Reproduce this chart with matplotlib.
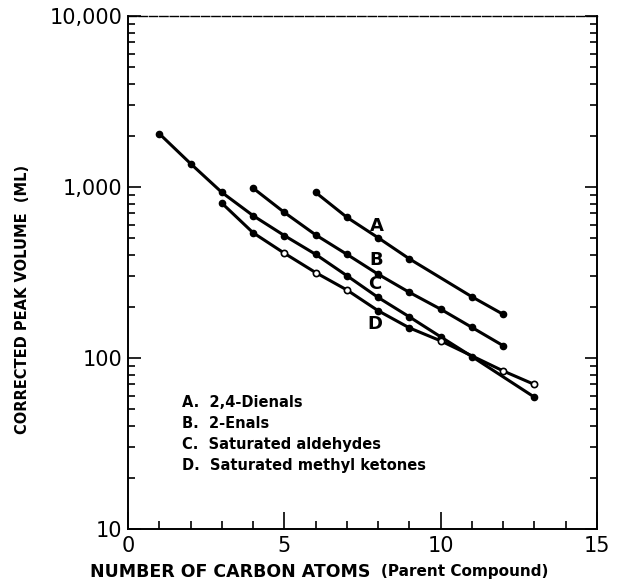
import matplotlib.pyplot as plt
from matplotlib.ticker import FixedLocator, NullFormatter

# ===============================
# DATA
# ===============================
x_a = [6, 7, 8, 9, 11, 12]
y_a = [930, 665, 505, 380, 228, 180]

x_b = [4, 5, 6, 7, 8, 9, 10, 11, 12]
y_b = [985, 710, 525, 404, 309, 242, 193, 151, 118]

x_c = [1, 2, 3, 4, 5, 6, 7, 8, 9, 10, 11, 13]
y_c = [2050, 1370, 930, 680, 520, 404, 303, 226, 174, 133, 102, 59]

x_d = [3, 4, 5, 6, 7, 8, 9, 10, 12, 13]
y_d = [805, 540, 410, 316, 250, 189, 150, 126, 84, 70]
d_open = [5, 6, 7, 10, 12, 13]  # titik D yang digambar kosong

curve_labels = ["A", "B", "C", "D"]
label_x = [7.95, 7.95, 7.9, 7.9]
label_y = [588, 373, 271, 159]

legend_lines = ["A.  2,4-Dienals", "B.  2-Enals",
                "C.  Saturated aldehydes", "D.  Saturated methyl ketones"]

y_ticks = [10, 100, 1000, 10000]
y_ticklabels = ["10", "100", "1,000", "10,000"]
x_ticks = [0, 5, 10, 15]

# ===============================
# FIGURE
# ===============================
fig = plt.figure(figsize=(6.17, 5.81), dpi=100)
ax = fig.add_axes([0.2075, 0.0895, 0.76, 0.883])

lw = 2.2
for xs, ys in [(x_a, y_a), (x_b, y_b), (x_c, y_c)]:
    ax.plot(xs, ys, color="black", lw=lw, marker="o", ms=4.5,
            solid_capstyle="round")

ax.plot(x_d, y_d, color="black", lw=lw)
for xv, yv in zip(x_d, y_d):
    if xv in d_open:
        ax.plot(xv, yv, marker="o", ms=4.5, mfc="white", mec="black", mew=1.2)
    else:
        ax.plot(xv, yv, marker="o", ms=4.5, color="black")

# label kurva
for lab, lx, ly in zip(curve_labels, label_x, label_y):
    ax.text(lx, ly, lab, fontsize=13, fontweight="bold", ha="center",
            va="center")

# keterangan
for i, t in enumerate(legend_lines):
    ax.text(0.1145, 0.246 - i * 0.041, t, transform=ax.transAxes,
            fontsize=10.5, fontweight="bold", va="center", ha="left")

# ===============================
# SUMBU
# ===============================
ax.set_yscale("log")
ax.set_xlim(0, 15)
ax.set_ylim(10, 10000)

ax.yaxis.set_major_locator(FixedLocator(y_ticks))
ax.set_yticklabels(y_ticklabels)
minor_y = [m * 10 ** e for e in range(1, 4) for m in range(2, 10)]
ax.yaxis.set_minor_locator(FixedLocator(minor_y))
ax.yaxis.set_minor_formatter(NullFormatter())

ax.xaxis.set_major_locator(FixedLocator(x_ticks))
ax.xaxis.set_minor_locator(FixedLocator(range(1, 15)))

ax.tick_params(axis="y", which="major", direction="in", length=9, width=1.2,
               labelsize=15, left=True, right=True, pad=4)
ax.tick_params(axis="y", which="minor", direction="in", length=5, width=1.2,
               left=True, right=True)
ax.tick_params(axis="x", which="major", direction="in", length=12, width=1.2,
               labelsize=15, top=False, pad=5)
ax.tick_params(axis="x", which="minor", direction="in", length=6, width=1.2,
               top=False)

for side in ["left", "bottom", "right"]:
    ax.spines[side].set_linewidth(1.4)
ax.spines["top"].set_linewidth(1.0)
ax.spines["top"].set_linestyle((0, (6, 1.5)))

fig.text(0.60, 0.016, "NUMBER OF CARBON ATOMS", ha="right", va="center",
         fontsize=12.5, fontweight="bold")
fig.text(0.618, 0.016, "(Parent Compound)", ha="left", va="center",
         fontsize=11, fontweight="bold")
fig.text(0.036, 0.485, "CORRECTED PEAK VOLUME  (ML)", rotation=90,
         ha="center", va="center", fontsize=10.5, fontweight="bold")

fig.savefig("out.png", dpi=100)
